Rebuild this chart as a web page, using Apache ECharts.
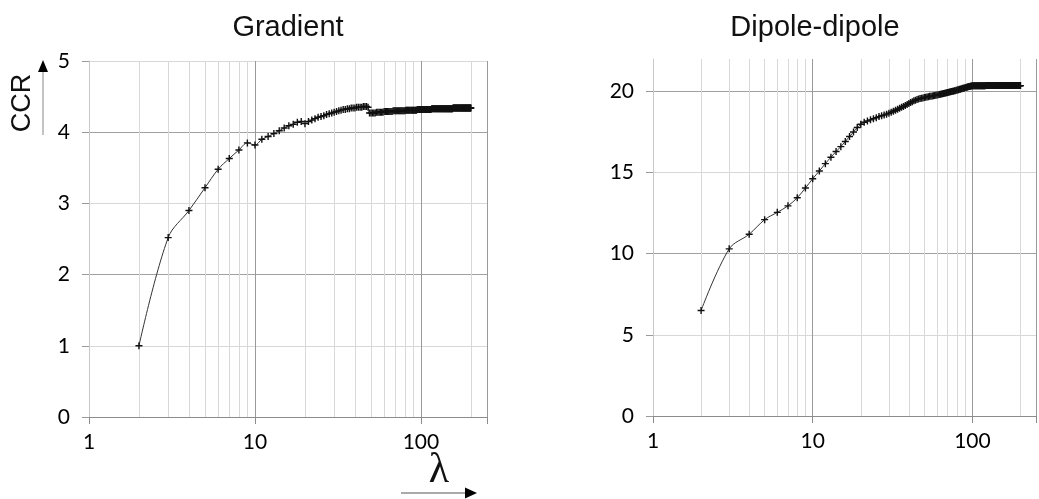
<!DOCTYPE html>
<html>
<head>
<meta charset="utf-8">
<script src="https://cdn.jsdelivr.net/npm/echarts@6/dist/echarts.min.js"></script>
<style>
html,body{margin:0;padding:0;background:#fff;}
#chart{width:1039px;height:499px;}
</style>
</head>
<body>
<div id="chart"></div>
<script>
// lambda values (x)
const LAMBDA = [
  2,3,4,5,6,7,8,9,10,
  11,12,13,14,15,16,17,18,19,20,
  21,22,23,24,25,26,27,28,29,30,
  31,32,33,34,35,36,37,38,39,40,
  41,42,43,44,45,46,47,48,49,50,
  51,52,53,54,55,56,57,58,59,60,
  61,62,63,64,65,66,67,68,69,70,
  71,72,73,74,75,76,77,78,79,80,
  81,82,83,84,85,86,87,88,89,90,
  91,92,93,94,95,96,97,98,99,100,
  101,102,103,104,105,106,107,108,109,110,
  111,112,113,114,115,116,117,118,119,120,
  121,122,123,124,125,126,127,128,129,130,
  131,132,133,134,135,136,137,138,139,140,
  141,142,143,144,145,146,147,148,149,150,
  151,152,153,154,155,156,157,158,159,160,
  161,162,163,164,165,166,167,168,169,170,
  171,172,173,174,175,176,177,178,179,180,
  181,182,183,184,185,186,187,188,189,190,
  191,192,193,194,195,196,197,198,199,200
];

// CCR, Gradient
const GRADIENT = [
  1.00,2.52,2.90,3.22,3.48,3.63,3.75,3.85,3.82,
  3.90,3.94,3.98,4.02,4.06,4.09,4.11,4.14,4.15,4.12,
  4.15,4.17,4.19,4.21,4.22,4.23,4.25,4.26,4.27,4.28,
  4.29,4.30,4.31,4.32,4.32,4.33,4.33,4.34,4.34,4.34,
  4.35,4.35,4.35,4.35,4.36,4.36,4.36,4.35,4.27,4.27,
  4.27,4.27,4.27,4.28,4.28,4.28,4.28,4.28,4.28,4.29,
  4.29,4.29,4.29,4.29,4.29,4.29,4.29,4.30,4.30,4.30,
  4.30,4.30,4.30,4.30,4.30,4.30,4.30,4.30,4.30,4.30,
  4.31,4.31,4.31,4.31,4.31,4.31,4.31,4.31,4.31,4.31,
  4.31,4.31,4.31,4.31,4.32,4.32,4.32,4.32,4.32,4.32,
  4.32,4.32,4.32,4.32,4.32,4.32,4.32,4.32,4.32,4.32,
  4.32,4.32,4.32,4.32,4.32,4.33,4.33,4.33,4.33,4.33,
  4.33,4.33,4.33,4.33,4.33,4.33,4.33,4.33,4.33,4.33,
  4.33,4.33,4.33,4.33,4.33,4.33,4.33,4.33,4.33,4.33,
  4.33,4.33,4.33,4.33,4.33,4.33,4.33,4.33,4.33,4.33,
  4.33,4.33,4.33,4.33,4.33,4.34,4.34,4.34,4.34,4.34,
  4.34,4.34,4.34,4.34,4.34,4.34,4.34,4.34,4.34,4.34,
  4.34,4.34,4.34,4.34,4.34,4.34,4.34,4.34,4.34,4.34,
  4.34,4.34,4.34,4.34,4.34,4.34,4.34,4.34,4.34,4.34,
  4.34,4.34,4.34,4.34,4.34,4.34,4.34,4.34,4.34,4.34
];

// CCR, Dipole-dipole
const DIPOLE = [
  6.5,10.3,11.2,12.1,12.55,12.95,13.45,14.05,14.62,
  15.1,15.55,15.95,16.3,16.6,16.92,17.22,17.5,17.78,17.98,
  18.1,18.18,18.25,18.32,18.38,18.45,18.5,18.55,18.6,18.66,
  18.72,18.78,18.84,18.9,18.96,19.02,19.08,19.14,19.2,19.26,
  19.32,19.37,19.42,19.46,19.5,19.53,19.56,19.58,19.6,19.62,
  19.64,19.66,19.68,19.7,19.71,19.72,19.74,19.75,19.77,19.78,
  19.8,19.81,19.83,19.84,19.86,19.87,19.89,19.9,19.92,19.93,
  19.95,19.96,19.98,19.99,20.01,20.02,20.04,20.05,20.07,20.08,
  20.1,20.11,20.13,20.14,20.16,20.17,20.19,20.2,20.22,20.23,
  20.25,20.26,20.28,20.29,20.3,20.31,20.32,20.33,20.34,20.35,
  20.35,20.35,20.35,20.35,20.35,20.35,20.35,20.35,20.35,20.35,
  20.35,20.35,20.35,20.35,20.35,20.35,20.35,20.35,20.35,20.35,
  20.36,20.36,20.36,20.36,20.36,20.36,20.36,20.36,20.36,20.36,
  20.36,20.36,20.36,20.36,20.36,20.36,20.36,20.36,20.36,20.36,
  20.36,20.36,20.36,20.36,20.36,20.36,20.36,20.36,20.36,20.36,
  20.36,20.36,20.36,20.36,20.36,20.36,20.36,20.36,20.36,20.36,
  20.36,20.36,20.36,20.36,20.36,20.36,20.36,20.36,20.36,20.36,
  20.36,20.36,20.36,20.36,20.36,20.36,20.36,20.36,20.36,20.36,
  20.36,20.36,20.36,20.36,20.36,20.36,20.36,20.36,20.36,20.36,
  20.36,20.36,20.36,20.36,20.36,20.36,20.36,20.36,20.36,20.36
];

const TITLES = ['Gradient', 'Dipole-dipole'];
const X_LABELS = [1, 10, 100];
const X_MINOR_GRID = [2,3,4,5,6,7,8,9,20,30,40,50,60,70,80,90,200];
const Y_LEFT_LABELS = [0,1,2,3,4,5];
const Y_RIGHT_LABELS = [0,5,10,15,20];

const chart = echarts.init(document.getElementById('chart'), null, {renderer: 'canvas'});
const FONT = 'Lato';
const plus = 'path://M4,0H6V4H10V6H6V10H4V6H0V4H4Z';

function pairs(ys) { return LAMBDA.map((x, i) => [x, ys[i]]); }

function isLabelX(v) {
  const r = Math.round(v);
  return X_LABELS.indexOf(r) >= 0 && Math.abs(v - r) < 1e-6;
}

function xAxis(gi) {
  return {
    type: 'log', logBase: 10, min: 1, max: 250, gridIndex: gi,
    axisLine: {show: true, lineStyle: {color: '#8c8c8c', width: 1}},
    axisTick: {show: true, length: 7, lineStyle: {color: '#8c8c8c'}},
    axisLabel: {
      margin: 15, color: '#000', fontFamily: FONT, fontSize: 21,
      formatter: v => isLabelX(v) ? String(Math.round(v)) : ''
    },
    splitLine: {show: true, lineStyle: {color: '#9a9a9a', width: 1}}
  };
}
function yAxis(gi, max, labels) {
  return {
    type: 'value', min: 0, max: max, interval: max === 5 ? 0.5 : 2.5, gridIndex: gi,
    axisLine: {show: true, lineStyle: {color: '#c8c8c8'}},
    axisTick: {show: true, length: 7, customValues: labels, lineStyle: {color: '#9a9a9a'}},
    axisLabel: {
      margin: 19, color: '#000', fontFamily: FONT, fontSize: 21,
      formatter: v => labels.indexOf(v) >= 0 ? String(v) : ''
    },
    splitLine: {show: true, lineStyle: {color: ['#a0a0a0', '#d8d8d8'], width: 1}}
  };
}
function gridSeries(idx) {
  return {
    type: 'line', xAxisIndex: idx, yAxisIndex: idx, data: [], z: 1, silent: true,
    markLine: {
      silent: true, symbol: ['none', 'none'], animation: false,
      label: {show: false},
      lineStyle: {color: '#d8d8d8', width: 1, type: 'solid'},
      emphasis: {disabled: true},
      data: X_MINOR_GRID.map(v => ({xAxis: v}))
    }
  };
}
function dataSeries(idx, ys) {
  return {
    type: 'line', xAxisIndex: idx, yAxisIndex: idx, z: 5,
    data: pairs(ys), smooth: 0.35,
    symbol: plus, symbolSize: 7, showAllSymbol: true,
    itemStyle: {color: '#111'},
    lineStyle: {color: '#333', width: 1}
  };
}

chart.setOption({
  animation: false,
  grid: [
    {left: 89, top: 61, right: 552, bottom: 82},
    {left: 653, top: 59, right: -11, bottom: 83}
  ],
  xAxis: [xAxis(0), xAxis(1)],
  yAxis: [yAxis(0, 5, Y_LEFT_LABELS), yAxis(1, 22, Y_RIGHT_LABELS)],
  series: [gridSeries(0), gridSeries(1), dataSeries(0, GRADIENT), dataSeries(1, DIPOLE)],
  graphic: [
    {type: 'text', x: 288, y: 28, style: {text: TITLES[0], fontFamily: 'Liberation Sans', fontSize: 29, fill: '#111', textAlign: 'center', textVerticalAlign: 'middle'}},
    {type: 'text', x: 815, y: 28, style: {text: TITLES[1], fontFamily: 'Liberation Sans', fontSize: 29, fill: '#111', textAlign: 'center', textVerticalAlign: 'middle'}},
    {type: 'text', x: 23, y: 103, rotation: Math.PI / 2, style: {text: 'CCR', fontFamily: 'Liberation Sans', fontSize: 27, fill: '#111', textAlign: 'center', textVerticalAlign: 'middle'}},
    {type: 'line', shape: {x1: 43, y1: 72, x2: 43, y2: 135}, style: {stroke: '#888', lineWidth: 1}},
    {type: 'polygon', shape: {points: [[43, 60], [38, 72], [48, 72]]}, style: {fill: '#000'}},
    {type: 'text', x: 439, y: 471, style: {text: 'λ', fontFamily: 'Liberation Serif', fontSize: 42, fill: '#111', textAlign: 'center', textVerticalAlign: 'middle'}},
    {type: 'line', shape: {x1: 401, y1: 493, x2: 466, y2: 493}, style: {stroke: '#555', lineWidth: 1}},
    {type: 'polygon', shape: {points: [[477, 493], [465, 487.5], [465, 498.5]]}, style: {fill: '#000'}}
  ]
});
</script>
</body>
</html>
